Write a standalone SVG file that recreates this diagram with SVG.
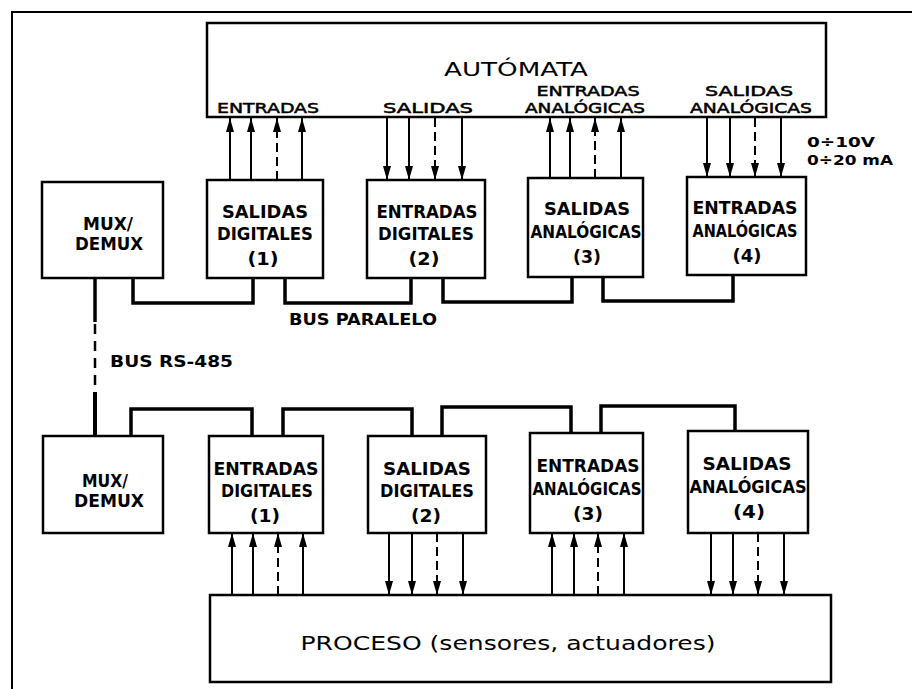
<svg xmlns="http://www.w3.org/2000/svg" width="912" height="689" viewBox="0 0 912 689">
<defs>
<style>
.box{fill:#fff;stroke:#000;stroke-width:2.5}
.frame{fill:none;stroke:#000;stroke-width:2}
.bus{fill:none;stroke:#000;stroke-width:3.5;stroke-linejoin:miter}
.sig{stroke:#000;stroke-width:2;fill:none;marker-end:url(#ah)}
.dash{stroke-dasharray:9 5}
.m{font-family:"DejaVu Sans",sans-serif;font-weight:bold;font-size:17px;text-anchor:middle;fill:#000}
.l{font-family:"DejaVu Sans",sans-serif;font-size:14px;text-anchor:middle;fill:#000;stroke:#000;stroke-width:0.5}
.big{font-family:"DejaVu Sans",sans-serif;font-size:19px;text-anchor:middle;fill:#000}
.b{font-family:"DejaVu Sans",sans-serif;font-weight:bold;font-size:16px;fill:#000}
.s{font-family:"DejaVu Sans",sans-serif;font-weight:bold;font-size:14px;fill:#000}
</style>
<marker id="ah" markerUnits="userSpaceOnUse" markerWidth="15" markerHeight="9" viewBox="0 0 15 9" refX="15" refY="4.5" orient="auto">
<path d="M15,4.5 L1,0.5 L1,8.5 Z" fill="#000"/>
</marker>
</defs>
<rect width="912" height="689" fill="#fff"/>
<path class="frame" d="M12,689 V12 H912"/>

<g id="automata">
<rect class="box" x="207" y="23" width="619" height="94"/>
<text class="big" x="516" y="76" textLength="144" lengthAdjust="spacingAndGlyphs">AUTÓMATA</text>
<text class="l" x="268" y="113" textLength="102" lengthAdjust="spacingAndGlyphs">ENTRADAS</text>
<text class="l" x="428" y="113" textLength="90" lengthAdjust="spacingAndGlyphs">SALIDAS</text>
<text class="l" x="588" y="96" textLength="103" lengthAdjust="spacingAndGlyphs">ENTRADAS</text>
<text class="l" x="585" y="113" textLength="120" lengthAdjust="spacingAndGlyphs">ANALÓGICAS</text>
<text class="l" x="749" y="96" textLength="88" lengthAdjust="spacingAndGlyphs">SALIDAS</text>
<text class="l" x="751" y="113" textLength="122" lengthAdjust="spacingAndGlyphs">ANALÓGICAS</text>
</g>

<g id="proceso">
<rect class="box" x="210" y="595" width="621" height="87"/>
<text class="big" x="508" y="650" textLength="415" lengthAdjust="spacingAndGlyphs">PROCESO (sensores, actuadores)</text>
</g>

<g id="mux-top">
<rect class="box" x="42" y="182" width="121" height="96"/>
<text class="m" x="108" y="230" textLength="50" lengthAdjust="spacingAndGlyphs">MUX/</text>
<text class="m" x="109" y="250" textLength="68" lengthAdjust="spacingAndGlyphs">DEMUX</text>
</g>
<g id="top1">
<rect class="box" x="207" y="180" width="116" height="98"/>
<text class="m" x="265" y="218" textLength="86" lengthAdjust="spacingAndGlyphs">SALIDAS</text>
<text class="m" x="265" y="240" textLength="96" lengthAdjust="spacingAndGlyphs">DIGITALES</text>
<text class="m" x="263" y="265" textLength="31" lengthAdjust="spacingAndGlyphs">(1)</text>
</g>
<g id="top2">
<rect class="box" x="367" y="180" width="118" height="98"/>
<text class="m" x="427" y="218" textLength="101" lengthAdjust="spacingAndGlyphs">ENTRADAS</text>
<text class="m" x="426" y="240" textLength="96" lengthAdjust="spacingAndGlyphs">DIGITALES</text>
<text class="m" x="424" y="265" textLength="31" lengthAdjust="spacingAndGlyphs">(2)</text>
</g>
<g id="top3">
<rect class="box" x="528" y="178" width="115" height="99"/>
<text class="m" x="587" y="215" textLength="86" lengthAdjust="spacingAndGlyphs">SALIDAS</text>
<text class="m" x="586" y="238" textLength="111" lengthAdjust="spacingAndGlyphs">ANALÓGICAS</text>
<text class="m" x="587" y="263" textLength="28" lengthAdjust="spacingAndGlyphs">(3)</text>
</g>
<g id="top4">
<rect class="box" x="687" y="177" width="119" height="98"/>
<text class="m" x="745" y="214" textLength="105" lengthAdjust="spacingAndGlyphs">ENTRADAS</text>
<text class="m" x="745" y="237" textLength="105" lengthAdjust="spacingAndGlyphs">ANALÓGICAS</text>
<text class="m" x="747" y="262" textLength="29" lengthAdjust="spacingAndGlyphs">(4)</text>
</g>

<g id="mux-bot">
<rect class="box" x="43" y="436" width="120" height="97"/>
<text class="m" x="105" y="487" textLength="46" lengthAdjust="spacingAndGlyphs">MUX/</text>
<text class="m" x="109" y="507" textLength="70" lengthAdjust="spacingAndGlyphs">DEMUX</text>
</g>
<g id="bot1">
<rect class="box" x="209" y="436" width="114" height="97"/>
<text class="m" x="266" y="475" textLength="105" lengthAdjust="spacingAndGlyphs">ENTRADAS</text>
<text class="m" x="267" y="497" textLength="92" lengthAdjust="spacingAndGlyphs">DIGITALES</text>
<text class="m" x="265" y="522" textLength="30" lengthAdjust="spacingAndGlyphs">(1)</text>
</g>
<g id="bot2">
<rect class="box" x="368" y="436" width="118" height="97"/>
<text class="m" x="427" y="475" textLength="88" lengthAdjust="spacingAndGlyphs">SALIDAS</text>
<text class="m" x="427" y="497" textLength="94" lengthAdjust="spacingAndGlyphs">DIGITALES</text>
<text class="m" x="426" y="522" textLength="30" lengthAdjust="spacingAndGlyphs">(2)</text>
</g>
<g id="bot3">
<rect class="box" x="530" y="433" width="113" height="100"/>
<text class="m" x="588" y="472" textLength="103" lengthAdjust="spacingAndGlyphs">ENTRADAS</text>
<text class="m" x="587" y="495" textLength="109" lengthAdjust="spacingAndGlyphs">ANALÓGICAS</text>
<text class="m" x="588" y="520" textLength="30" lengthAdjust="spacingAndGlyphs">(3)</text>
</g>
<g id="bot4">
<rect class="box" x="688" y="431" width="120" height="102"/>
<text class="m" x="747" y="470" textLength="89" lengthAdjust="spacingAndGlyphs">SALIDAS</text>
<text class="m" x="748" y="493" textLength="117" lengthAdjust="spacingAndGlyphs">ANALÓGICAS</text>
<text class="m" x="749" y="518" textLength="32" lengthAdjust="spacingAndGlyphs">(4)</text>
</g>

<g id="connectors">
<path class="bus" d="M133,278 V303 H253 V278 M285,278 V303 H411 V278 M443,278 V302 H572 V277 M603,277 V301 H733 V275"/>
<path class="bus" d="M131,436 V409 H252 V436 M283,436 V409 H412 V436 M442,436 V407 H571 V433 M601,433 V406 H735 V431"/>
<path d="M95,278 V322" stroke="#000" stroke-width="3.5"/>
<path d="M95,324 V390" stroke="#000" stroke-width="2.5" stroke-dasharray="10 7"/>
<path d="M95,392 V436" stroke="#000" stroke-width="4"/>

<line class="sig" x1="230" y1="180" x2="230" y2="118"/>
<line class="sig" x1="251" y1="180" x2="251" y2="118"/>
<line class="sig dash" x1="277" y1="180" x2="277" y2="118"/>
<line class="sig" x1="302" y1="180" x2="302" y2="118"/>

<line class="sig" x1="387" y1="118" x2="387" y2="180"/>
<line class="sig" x1="409" y1="118" x2="409" y2="180"/>
<line class="sig dash" x1="435" y1="118" x2="435" y2="180"/>
<line class="sig" x1="462" y1="118" x2="462" y2="180"/>

<line class="sig" x1="550" y1="178" x2="550" y2="118"/>
<line class="sig" x1="570" y1="178" x2="570" y2="118"/>
<line class="sig dash" x1="595" y1="178" x2="595" y2="118"/>
<line class="sig" x1="621" y1="178" x2="621" y2="118"/>

<line class="sig" x1="707" y1="118" x2="707" y2="177"/>
<line class="sig" x1="730" y1="118" x2="730" y2="177"/>
<line class="sig dash" x1="755" y1="118" x2="755" y2="177"/>
<line class="sig" x1="781" y1="118" x2="781" y2="177"/>

<line class="sig" x1="232" y1="595" x2="232" y2="533"/>
<line class="sig" x1="253" y1="595" x2="253" y2="533"/>
<line class="sig dash" x1="278" y1="595" x2="278" y2="533"/>
<line class="sig" x1="303" y1="595" x2="303" y2="533"/>

<line class="sig" x1="389" y1="533" x2="389" y2="595"/>
<line class="sig" x1="412" y1="533" x2="412" y2="595"/>
<line class="sig dash" x1="437" y1="533" x2="437" y2="595"/>
<line class="sig" x1="463" y1="533" x2="463" y2="595"/>

<line class="sig" x1="552" y1="595" x2="552" y2="533"/>
<line class="sig" x1="574" y1="595" x2="574" y2="533"/>
<line class="sig dash" x1="598" y1="595" x2="598" y2="533"/>
<line class="sig" x1="624" y1="595" x2="624" y2="533"/>

<line class="sig" x1="711" y1="533" x2="711" y2="595"/>
<line class="sig" x1="733" y1="533" x2="733" y2="595"/>
<line class="sig dash" x1="758" y1="533" x2="758" y2="595"/>
<line class="sig" x1="784" y1="533" x2="784" y2="595"/>

<text class="b" x="289" y="325" textLength="148" lengthAdjust="spacingAndGlyphs">BUS PARALELO</text>
<text class="b" x="110" y="367" textLength="123" lengthAdjust="spacingAndGlyphs">BUS RS-485</text>
<text class="s" x="807" y="147" textLength="68" lengthAdjust="spacingAndGlyphs">0÷10V</text>
<text class="s" x="807" y="165" textLength="86" lengthAdjust="spacingAndGlyphs">0÷20 mA</text>
</g>
</svg>
